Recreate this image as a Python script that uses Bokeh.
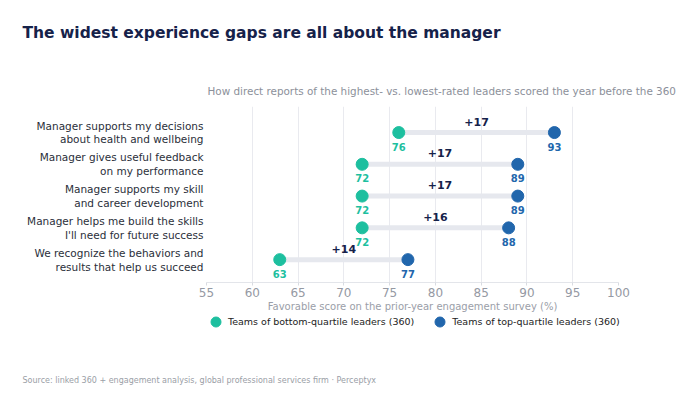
from bokeh.plotting import figure
from bokeh.models import ColumnDataSource, Legend, LegendItem, FixedTicker, Range1d
from bokeh.core.properties import value
from bokeh.embed import file_html
from bokeh.resources import INLINE

# Survey items, listed top to bottom
questions = [
    "Manager supports my decisions\nabout health and wellbeing",
    "Manager gives useful feedback\non my performance",
    "Manager supports my skill\nand career development",
    "Manager helps me build the skills\nI'll need for future success",
    "We recognize the behaviors and\nresults that help us succeed",
]
bottom_quartile = [76, 72, 72, 72, 63]
top_quartile = [93, 89, 89, 88, 77]
x_ticks = [55, 60, 65, 70, 75, 80, 85, 90, 95, 100]

TITLE = "The widest experience gaps are all about the manager"
SUBTITLE = "How direct reports of the highest- vs. lowest-rated leaders scored the year before the 360"
X_LABEL = "Favorable score on the prior-year engagement survey (%)"
SOURCE = "Source: linked 360 + engagement analysis, global professional services firm  \u00b7  Perceptyx"
SERIES = ["Teams of bottom-quartile leaders (360)", "Teams of top-quartile leaders (360)"]

FONT = "DejaVu Sans"
TEAL = "#1dbf9f"
BLUE = "#2166ac"
NAVY = "#16224a"
GRID = "#e9eaef"
W = 700


def text_strip(height):
    """A bare figure used as a canvas for heading / footer text (pixel ranges)."""
    f = figure(width=W, height=height, output_backend="svg", toolbar_location=None,
               x_range=Range1d(0, W), y_range=Range1d(height, 0),
               min_border=0, outline_line_color=None,
               background_fill_color="white", border_fill_color="white")
    f.axis.visible = False
    f.grid.visible = False
    return f


# ---- heading -------------------------------------------------------------
HEAD_H = 98
head = text_strip(HEAD_H)
head.text(x=[22], y=[32], text=[TITLE], text_font=value(FONT),
          text_font_size="15.5px", text_font_style="bold", text_color=NAVY,
          text_baseline="middle")
head.text(x=[207], y=[90], text=[SUBTITLE], text_font=value(FONT),
          text_font_size="10.4px", text_color="#8c909a", text_baseline="middle")

# ---- main dumbbell chart -------------------------------------------------
n = len(questions)
rows = [n - 1 - i for i in range(n)]
gaps = [t - b for t, b in zip(top_quartile, bottom_quartile)]

src = ColumnDataSource(dict(
    y=rows,
    low=bottom_quartile,
    high=top_quartile,
    mid=[(t + b) / 2 for t, b in zip(top_quartile, bottom_quartile)],
    low_txt=[str(v) for v in bottom_quartile],
    high_txt=[str(v) for v in top_quartile],
    gap_txt=[f"+{g}" for g in gaps],
))

MAIN_H = 216
p = figure(width=W, height=MAIN_H, output_backend="svg", toolbar_location=None,
           x_range=Range1d(55, 100), y_range=Range1d(-0.72, 4.82),
           min_border_left=206, min_border_right=82, min_border_top=8,
           min_border_bottom=MAIN_H - 8 - 176, outline_line_color=None,
           background_fill_color="white", border_fill_color="white")

# connector bars
p.segment(x0="low", x1="high", y0="y", y1="y", source=src,
          line_color="#e6e8ee", line_width=5)

p.scatter(x="low", y="y", source=src, size=12, marker="circle",
          fill_color=TEAL, line_color=TEAL)
p.scatter(x="high", y="y", source=src, size=12, marker="circle",
          fill_color=BLUE, line_color=BLUE)

# value labels under each dot
p.text(x="low", y="y", text="low_txt", source=src, text_font=value(FONT),
       text_font_size="10px", text_font_style="bold", text_color=TEAL,
       text_align="center", text_baseline="middle", y_offset=14)
p.text(x="high", y="y", text="high_txt", source=src, text_font=value(FONT),
       text_font_size="10px", text_font_style="bold", text_color=BLUE,
       text_align="center", text_baseline="middle", y_offset=14)

# gap labels above each connector
p.text(x="mid", y="y", text="gap_txt", source=src, text_font=value(FONT),
       text_font_size="11px", text_font_style="bold", text_color=NAVY,
       text_align="center", text_baseline="middle", y_offset=-11)

p.xaxis.ticker = FixedTicker(ticks=x_ticks)
p.xaxis.axis_label = X_LABEL
p.xaxis.axis_label_text_font = FONT
p.xaxis.axis_label_text_font_size = "10px"
p.xaxis.axis_label_text_font_style = "normal"
p.xaxis.axis_label_text_color = "#9a9ea8"
p.xaxis.axis_label_standoff = 1
p.xaxis.major_label_text_font = FONT
p.xaxis.major_label_text_font_size = "12px"
p.xaxis.major_label_text_color = "#9599a3"
p.xaxis.major_label_standoff = 2
p.xaxis.axis_line_color = "#e3e5ea"
p.xaxis.major_tick_line_color = "#d8dbe1"
p.xaxis.major_tick_out = 3
p.xaxis.major_tick_in = 0
p.xaxis.minor_tick_line_color = None

p.yaxis.ticker = FixedTicker(ticks=rows)
p.yaxis.major_label_overrides = {r: q for r, q in zip(rows, questions)}
p.yaxis.major_label_text_font = FONT
p.yaxis.major_label_text_font_size = "10.5px"
p.yaxis.major_label_text_color = "#2b2f3a"
p.yaxis.major_label_text_line_height = 1.15
p.yaxis.major_label_standoff = 3
p.yaxis.major_tick_out = 0
p.yaxis.major_tick_in = 0
p.yaxis.axis_line_color = None
p.yaxis.major_tick_line_color = None
p.yaxis.minor_tick_line_color = None

p.xgrid.grid_line_color = GRID
p.xgrid.ticker = FixedTicker(ticks=x_ticks)
p.ygrid.grid_line_color = None

# ---- footer: legend and source note ---------------------------------------
FOOT_H = 404 - HEAD_H - MAIN_H
foot = text_strip(FOOT_H)
# legend keys: one unplotted (NaN) point each, so only the swatch shows
k_low = foot.scatter(x=[float("nan")], y=[float("nan")], marker="circle",
                     fill_color=TEAL, line_color=TEAL)
k_high = foot.scatter(x=[float("nan")], y=[float("nan")], marker="circle",
                      fill_color=BLUE, line_color=BLUE)
legend = Legend(items=[
    LegendItem(label=SERIES[0], renderers=[k_low]),
    LegendItem(label=SERIES[1], renderers=[k_high]),
], orientation="horizontal", location=(203, FOOT_H - 20), padding=0, margin=0,
    spacing=13, glyph_width=25, glyph_height=25, label_standoff=0,
    border_line_color=None, background_fill_alpha=0,
    label_text_font=FONT, label_text_font_size="9.5px", label_text_color="#222222")
foot.add_layout(legend, "center")
foot.text(x=[22], y=[380 - (HEAD_H + MAIN_H)], text=[SOURCE], text_font=value(FONT),
          text_font_size="8px", text_color="#9a9ea6", text_baseline="middle")

# three stacked roots, each a separate figure
open("out.html", "w").write(file_html([head, p, foot], INLINE))
